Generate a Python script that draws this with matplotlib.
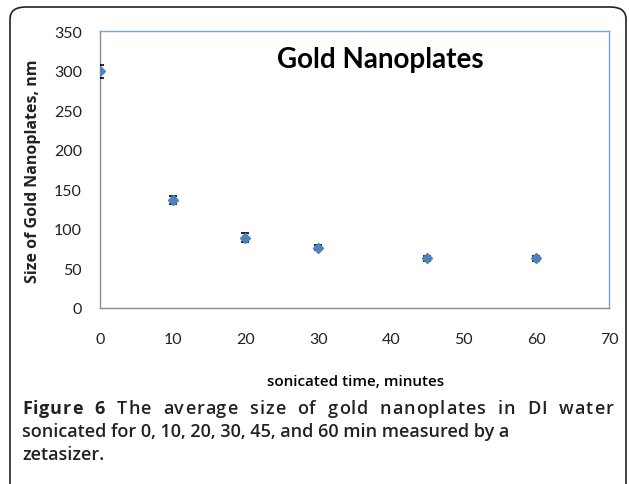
import matplotlib
matplotlib.use("Agg")
import matplotlib.pyplot as plt
from matplotlib.patches import FancyBboxPatch

times = [0, 10, 20, 30, 45, 60]
sizes = [299, 136, 89, 76, 63, 63]
errors = [8, 5, 6, 3, 3, 3]
x_ticks = [0, 10, 20, 30, 40, 50, 60, 70]
y_ticks = [0, 50, 100, 150, 200, 250, 300, 350]

W, H = 629, 485
fig = plt.figure(figsize=(W / 100, H / 100), dpi=100)
fig.patch.set_facecolor("white")

frame = FancyBboxPatch((10 / W, -20 / H), (616 / W), (477 + 20) / H,
                       boxstyle="round,pad=0,rounding_size=0.025",
                       transform=fig.transFigure, fill=False,
                       edgecolor="#222222", linewidth=1.2, clip_on=False)
fig.patches.append(frame)

ax = fig.add_axes([100 / W, 1 - 309 / H, 509 / W, 277 / H])
ax.errorbar(times, sizes, yerr=errors, fmt="D", color="#4F81BD",
            markersize=5.5, ecolor="black", elinewidth=1.2, capsize=3,
            capthick=1.2, zorder=3)
ax.set_xlim(0, 70)
ax.set_ylim(0, 350)
ax.set_xticks(x_ticks)
ax.set_yticks(y_ticks)
ax.tick_params(length=0, labelsize=11.5, labelcolor="#222222")
ax.tick_params(axis="x", pad=17)
ax.tick_params(axis="y", pad=13)
for lab in ax.get_xticklabels() + ax.get_yticklabels():
    lab.set_family("Lato")
ax.spines["left"].set_color("#8c8c8c")
ax.spines["bottom"].set_color("#8c8c8c")
ax.spines["top"].set_color("#7fa3d4")
ax.spines["right"].set_color("#7fa3d4")
for s in ax.spines.values():
    s.set_linewidth(1.0)

ax.text(0.55, 0.9, "Gold Nanoplates", transform=ax.transAxes,
        ha="center", va="center", fontsize=20, fontweight="bold",
        family="Lato", color="black")

fig.text(33 / W, 1 - 171 / H, "Size of Gold Nanoplates, nm", rotation=90,
         ha="center", va="center", fontsize=11.5, fontweight="bold",
         family="Open Sans", color="#222222")
fig.text(356 / W, 1 - 382 / H, "sonicated time, minutes", ha="center",
         va="center", fontsize=11, family="Open Sans", color="black",
         fontweight="semibold")

cap_size = 13
cap_color = "#222222"
renderer = fig.canvas.get_renderer()

# first caption line, justified by letter and word spacing
line1 = [("Figure 6", "bold"),
         (" The average size of gold nanoplates in DI water", "semibold")]
chars = []
for seg, wt in line1:
    for ch in seg:
        chars.append((ch, wt))
x0, x1 = 22, 613
y1 = 1 - 409 / H
objs = []
for ch, wt in chars:
    t = fig.text(0, y1, ch if ch != " " else "n", ha="left", va="center",
                 fontsize=cap_size, fontweight=wt, family="Open Sans",
                 color=cap_color)
    objs.append(t)
widths = []
for (ch, wt), t in zip(chars, objs):
    if ch == " ":
        t.set_text(" ")
        probe = fig.text(0, 0, "a a", fontsize=cap_size, fontweight=wt,
                         family="Open Sans")
        probe2 = fig.text(0, 0, "aa", fontsize=cap_size, fontweight=wt,
                          family="Open Sans")
        wd = (probe.get_window_extent(renderer).width
              - probe2.get_window_extent(renderer).width)
        probe.remove()
        probe2.remove()
    else:
        wd = t.get_window_extent(renderer).width
    widths.append(wd)
extra = (x1 - x0 - sum(widths))
n_sp = sum(1 for c, _ in chars if c == " ")
n_gaps = len(chars) - 1
letter_extra = extra * 0.45 / n_gaps
word_extra = extra * 0.55 / n_sp
x = x0
for (ch, wt), t, wd in zip(chars, objs, widths):
    t.set_x(x / W)
    x += wd + letter_extra + (word_extra if ch == " " else 0)

fig.text(22 / W, 1 - 432 / H,
         "sonicated for 0, 10, 20, 30, 45, and 60 min measured by a",
         ha="left", va="center", fontsize=cap_size, fontweight="semibold",
         family="Open Sans", color=cap_color)
fig.text(22 / W, 1 - 455 / H, "zetasizer.", ha="left", va="center",
         fontsize=cap_size, fontweight="semibold", family="Open Sans",
         color=cap_color)

fig.savefig("out.png", dpi=100, facecolor="white")
